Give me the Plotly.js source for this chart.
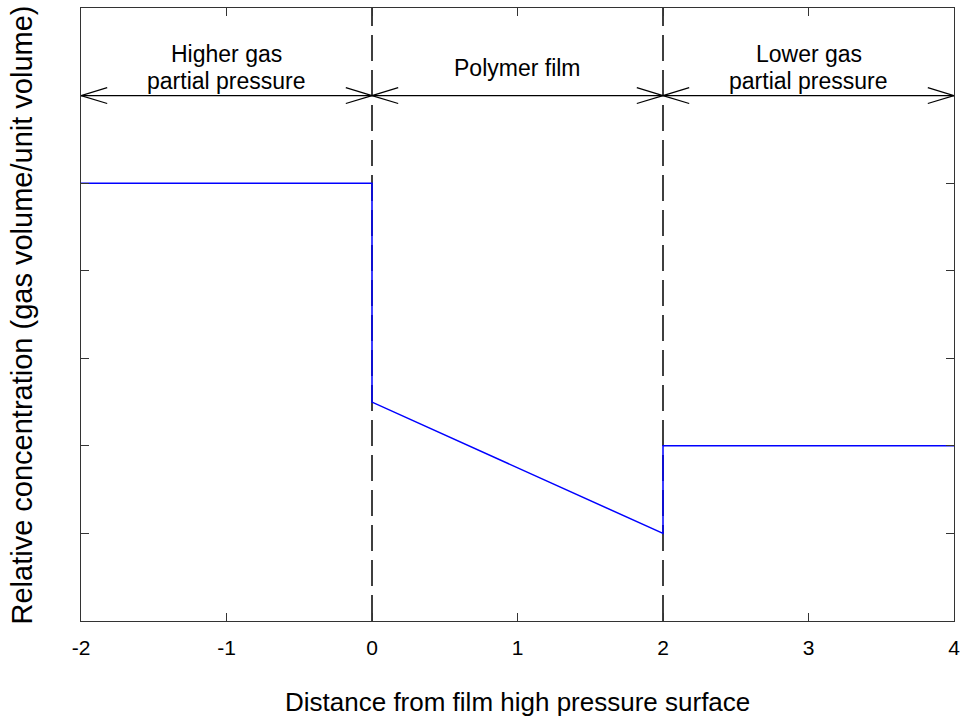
<!DOCTYPE html>
<html>
<head>
<meta charset="utf-8">
<script src="https://cdn.plot.ly/plotly-3.0.1.min.js"></script>
<style>html,body{margin:0;padding:0;background:#fff;}#chart{width:963px;height:717px;}</style>
</head>
<body>
<div id="chart"></div>
<script>
// Concentration profile
var profileX = [-2, 0, 0, 2, 2, 4];
var profileY = [5, 5, 2.5, 1, 2, 2];

// Region boundaries (dashed lines) and region spans for arrows
var boundaries = [0, 2];
var regionStart = [-2, 0, 2];
var regionEnd = [0, 2, 4];
var regionLabels = ["Higher gas<br>partial pressure", "Polymer film", "Lower gas<br>partial pressure"];
var arrowLevel = 6;

var xTicks = [-2, -1, 0, 1, 2, 3, 4];
var xTickText = ["-2", "-1", "0", "1", "2", "3", "4"];
var yTicks = [1, 2, 3, 4, 5, 6];

var yMin = 0, yMax = 7;
var headDx = 0.18, headDy = 0.09;

var FONT = "Liberation Sans, Arial, Helvetica, sans-serif";

var shapes = [];
boundaries.forEach(function (b) {
  shapes.push({type: "line", layer: "below", xref: "x", yref: "y", x0: b, x1: b, y0: yMin, y1: yMax,
    line: {color: "#000", width: 1.5, dash: "26px,9px"}});
});
for (var i = 0; i < regionStart.length; i++) {
  var a = regionStart[i], b = regionEnd[i];
  var ln = {color: "#000", width: 1.2};
  shapes.push({type: "line", xref: "x", yref: "y", x0: a, x1: b, y0: arrowLevel, y1: arrowLevel, line: ln});
  [1, -1].forEach(function (s) {
    shapes.push({type: "line", xref: "x", yref: "y", x0: a, x1: a + headDx, y0: arrowLevel, y1: arrowLevel + s * headDy, line: ln});
    shapes.push({type: "line", xref: "x", yref: "y", x0: b, x1: b - headDx, y0: arrowLevel, y1: arrowLevel + s * headDy, line: ln});
  });
}

var annotations = [];
var lineGap = 27;
for (var j = 0; j < regionLabels.length; j++) {
  var lines = regionLabels[j].split("<br>");
  var n = lines.length;
  for (var k = 0; k < n; k++) {
    annotations.push({xref: "x", yref: "y", x: (regionStart[j] + regionEnd[j]) / 2, y: arrowLevel + 0.32,
      yshift: ((n - 1) / 2 - k) * lineGap,
      text: lines[k], showarrow: false, xanchor: "center", yanchor: "middle",
      font: {family: FONT, size: 23, color: "#000"}});
  }
}
annotations.push({xref: "paper", yref: "paper", x: 0.5, y: -0.132, text: "Distance from film high pressure surface",
  showarrow: false, xanchor: "center", yanchor: "middle", font: {family: FONT, size: 26, color: "#000"}});
annotations.push({xref: "paper", yref: "paper", x: -0.0676, y: 0.5, text: "Relative concentration (gas volume/unit volume)",
  textangle: -90, showarrow: false, xanchor: "center", yanchor: "middle", font: {family: FONT, size: 29, color: "#000"}});

var data = [{
  type: "scatter", mode: "lines", x: profileX, y: profileY,
  line: {color: "rgb(0,0,255)", width: 1.5}, hoverinfo: "skip", showlegend: false
}];

var layout = {
  width: 963, height: 717,
  margin: {l: 81, r: 9, t: 8, b: 96, pad: 0},
  paper_bgcolor: "#fff", plot_bgcolor: "#fff",
  showlegend: false,
  font: {family: FONT, color: "#000"},
  xaxis: {range: [-2, 4], tickvals: xTicks, ticktext: xTickText, ticks: "inside", ticklen: 8,
    tickcolor: "#333", showline: true, linecolor: "#333", linewidth: 1, mirror: "ticks",
    ticklabelstandoff: 8,
    showgrid: false, zeroline: false, tickfont: {family: FONT, size: 21, color: "#000"}},
  yaxis: {range: [yMin, yMax], tickvals: yTicks, showticklabels: false, ticks: "inside", ticklen: 8,
    tickcolor: "#333", showline: true, linecolor: "#333", linewidth: 1, mirror: "ticks",
    showgrid: false, zeroline: false},
  shapes: shapes,
  annotations: annotations
};

Plotly.newPlot("chart", data, layout, {staticPlot: true, displayModeBar: false});
</script>
</body>
</html>
